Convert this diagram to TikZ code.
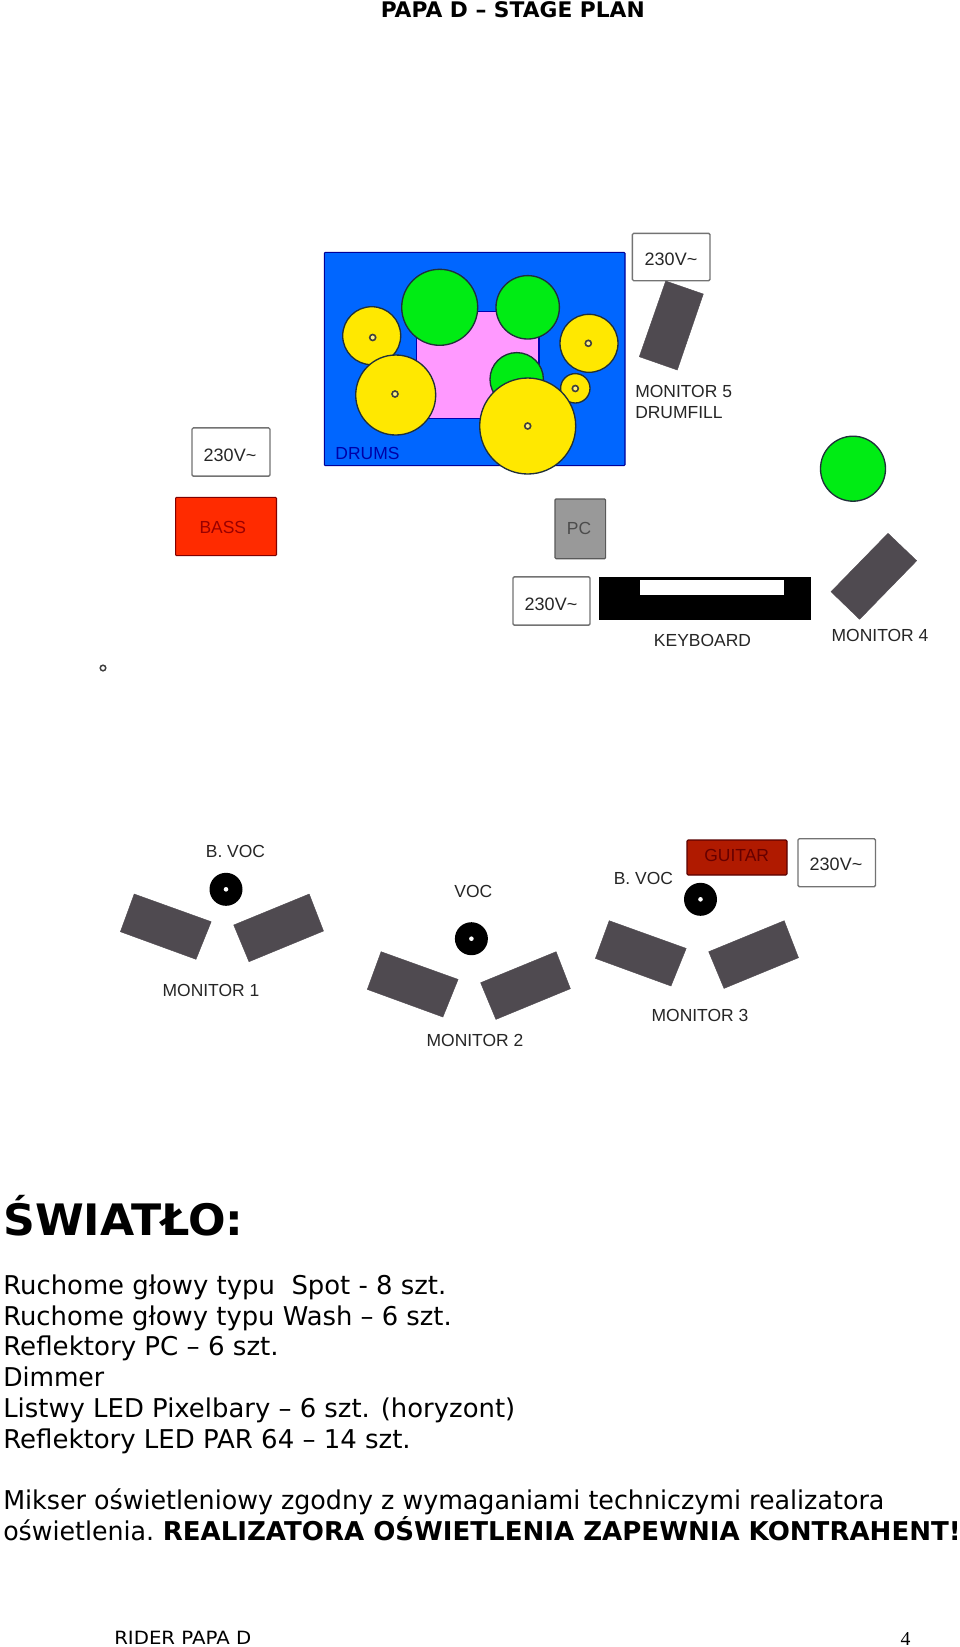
\documentclass[tikz,border=0pt]{standalone}
\usepackage{fontspec}
\usepackage{graphicx}
\setmainfont{Liberation Sans}
\newfontfamily\verd{DejaVu Sans}
\newfontfamily\tms{Liberation Serif}
\newlength\pxu
\setlength\pxu{0.75pt}
\newcommand\fitw[2]{\resizebox{#1\pxu}{\height}{#2}}
\definecolor{blueC}{HTML}{0066FF}
\definecolor{pinkC}{HTML}{FF99FF}
\definecolor{greenC}{HTML}{00EC14}
\definecolor{yellowC}{HTML}{FFE800}
\definecolor{monC}{HTML}{4F4A50}
\definecolor{lineC}{HTML}{20303A}
\definecolor{bassC}{HTML}{FF2B00}
\definecolor{guitC}{HTML}{B01A00}
\tikzset{
 x=0.75pt,y=-0.75pt,
 lab/.style={inner sep=0pt,font=\fontsize{13.1pt}{15pt}\selectfont,text=black!85},
 plugtxt/.style={inner sep=0pt,font=\fontsize{13.5pt}{15pt}\selectfont,text=black!85},
 plug/.style={draw=black!55,line width=1pt,fill=white,rounded corners=1pt,inner sep=0pt},
 mon/.style={fill=monC,draw=monC,line width=0.3pt},
 drum/.style={draw=lineC,line width=1pt},
 gr/.style={drum,fill=greenC},
 ye/.style={drum,fill=yellowC},
 hole/.style={draw=black!75,line width=1.2pt,fill=yellowC!50!white},
 body/.style={anchor=base west,inner sep=0pt,text=black,font=\verd\fontsize{19.4pt}{21pt}\selectfont},
}
\begin{document}
\begin{tikzpicture}
\useasboundingbox (0,0) rectangle (960,1647);
\fill[white] (0,0) rectangle (960,1647);
% title
\node[anchor=base west,inner sep=0pt,font=\verd\bfseries\fontsize{16.1pt}{18pt}\selectfont] (title) at (380.5,17) {\fitw{264}{PAPA D – STAGE PLAN}};
% drums
\draw[fill=blueC,draw=blue!60!black,line width=0.8pt,rounded corners=0.8pt] (324.3,252.3) rectangle (625,465.7);
\draw[fill=pinkC,draw=blue!70!black,line width=0.9pt] (416.7,311.7) rectangle (539,418.3);
\draw[gr] (439.7,307.3) circle (38);
\draw[gr] (527.7,307.3) circle (31.7);
\draw[gr] (516.7,379.3) circle (26.7);
\draw[ye] (371.7,335.7) circle (29);
\draw[ye] (395.7,395) circle (40);
\draw[ye] (589,343.3) circle (29);
\draw[ye] (575.3,388.3) circle (14.7);
\draw[ye] (527.7,426) circle (48);
\foreach \p in {(372.7,337.5),(395,394),(588.3,343.3),(575.3,388.5),(527.7,426)} \draw[hole] \p circle (3);
\node[lab,text=blue!65!black] (drums) at (367.5,453) {DRUMS};
% plugs
\node[plug,minimum width=58.3pt,minimum height=35.5pt] (p1) at (671.2,257) {};
\node[plugtxt] (p1t) at (671,259.5) {230V\char`~};
\node[plug,minimum width=58.5pt,minimum height=36.2pt] (p2) at (231,452) {};
\node[plugtxt] (p2t) at (230,454.8) {230V\char`~};
\node[plug,minimum width=57.8pt,minimum height=36.2pt] (p3) at (551.5,601) {};
\node[plugtxt] (p3t) at (551,604) {230V\char`~};
\node[plug,minimum width=58.1pt,minimum height=36pt] (p4) at (836.7,862.7) {};
\node[plugtxt] (p4t) at (836,864) {230V\char`~};
% monitor 5
\draw[mon] (665.7,281) -- (703.3,294) -- (677.3,370) -- (639.3,356.7) -- cycle;
\node[lab,anchor=base west] (m5) at (635,397) {MONITOR 5};
\node[lab,anchor=base west] (dfill) at (635,418) {DRUMFILL};
% bass
\draw[fill=bassC,draw=red!50!black,line width=0.8pt,rounded corners=0.8pt] (175.6,497.3) rectangle (276.5,555.7);
\node[lab,text=red!60!black] (bass) at (222.8,527) {BASS};
% PC
\draw[fill=black!40,draw=black!65,line width=0.9pt,rounded corners=0.8pt] (555,499) rectangle (605.6,558.7);
\node[lab,text=black!70] (pc) at (579,528.7) {PC};
% keyboard
\fill[black] (598.5,577) rectangle (810.8,619.7);
\fill[white] (640,580) rectangle (784,595);
\node[lab] (kb) at (702.5,640) {KEYBOARD};
% right green
\draw[gr] (853,468.7) circle (32.5);
% monitor 4
\draw[mon] (888,533.3) -- (916.7,560.7) -- (859.6,619.3) -- (831,591.7) -- cycle;
\node[lab] (m4) at (880,635.7) {MONITOR 4};
% dot
\draw[draw=black!75,line width=1.1pt,fill=white] (103,668) circle (2.8);
% monitors
\foreach \dx/\dy in {0/0,246.9/57.7,475/26.7}{
 \begin{scope}[shift={(\dx,\dy)}]
 \draw[mon] (134.2,894) -- (211.2,921.7) -- (196,959.3) -- (120.4,931.7) -- cycle;
 \draw[mon] (309.2,894) -- (323.5,931) -- (249,961.7) -- (233.7,925) -- cycle;
 \end{scope}
}
% mics
\foreach \c in {(226,889.3),(471.4,938.7),(700.5,899.3)}{
 \fill[black] \c circle (16.5);
 \fill[white] \c circle (2.3);
}
\node[lab] (bv1) at (235.5,851) {B. VOC};
\node[lab] (voc) at (473.3,891) {VOC};
\node[lab] (bv2) at (643.4,878) {B. VOC};
\node[lab] (m1) at (211,990) {MONITOR 1};
\node[lab] (m2) at (475,1040) {MONITOR 2};
\node[lab] (m3) at (700,1015) {MONITOR 3};
% guitar
\draw[fill=guitC,draw=red!35!black,line width=0.8pt,rounded corners=0.8pt] (687,840) rectangle (787,875);
\node[lab,text=red!40!black] (gt) at (736.7,855.7) {GUITAR};
% text
\node[anchor=base west,inner sep=0pt,font=\verd\bfseries\fontsize{32.5pt}{34pt}\selectfont] (sw) at (3,1235) {\fitw{240}{ŚWIATŁO:}};
\node[body] (l1) at (3,1294) {\fitw{443}{Ruchome głowy typu \ Spot - 8 szt.}};
\node[body] (l2) at (3,1325) {\fitw{448.5}{Ruchome głowy typu Wash – 6 szt.}};
\node[body] (l3) at (3,1355.5) {\fitw{275.5}{Reflektory PC – 6 szt.}};
\node[body] (l4) at (3,1386) {\fitw{101}{Dimmer}};
\node[body] (l5) at (3,1417) {\fitw{512}{Listwy LED Pixelbary – 6 szt. (horyzont)}};
\node[body] (l6) at (3,1448) {\fitw{407.5}{Reflektory LED PAR 64 – 14 szt.}};
\node[body] (l7) at (3,1509.5) {\fitw{881}{Mikser oświetleniowy zgodny z wymaganiami techniczymi realizatora}};
\node[body] (l8) at (3,1540) {\fitw{151}{oświetlenia.}};
\node[body] (l8b) at (162.5,1540) {\fitw{798}{\textbf{REALIZATORA OŚWIETLENIA ZAPEWNIA KONTRAHENT!}}};
% footer
\node[anchor=base west,inner sep=0pt,font=\verd\fontsize{13.7pt}{16pt}\selectfont] (ft) at (114,1644) {\fitw{137}{RIDER PAPA D}};
\node[anchor=base,inner sep=0pt,font=\tms\fontsize{14.8pt}{16pt}\selectfont] (pg) at (905.5,1645) {4};
\end{tikzpicture}
\end{document}
